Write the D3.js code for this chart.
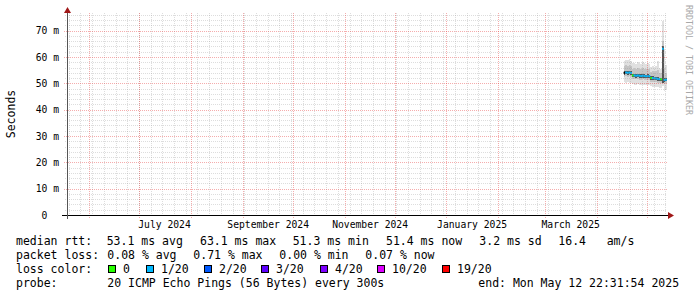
<!DOCTYPE html>
<html>
<head>
<meta charset="utf-8">
<script src="https://cdn.jsdelivr.net/npm/d3@7"></script>
<style>
    body { margin: 0; background: #fff; }
    svg text { font-family: "DejaVu Sans Mono", monospace; white-space: pre; }
</style>
</head>
<body>
<div id="chart"></div>
<script>
// smokeping graph, last ~359 days, one bin per day counted back from the end time
const endTime = new Date(Date.UTC(2025, 4, 12, 22, 31, 54));
const spanDays = 359;

const binDays   = [-26, -25, -24, -23, -22, -21, -20, -19, -18, -17, -16, -15, -14, -13, -12, -11, -10, -9, -8, -7, -6, -5, -4, -3, -2, -1];
const medianRtt = [54.0, 54.1, 54.0, 54.1, 53.9, 53.0, 53.0, 52.9, 53.0, 52.9, 52.8, 52.9, 52.8, 52.7, 52.8, 52.7, 52.0, 52.0, 51.9, 51.8, 51.7, 51.6, 51.5, 63.1, 51.3, 51.4];
// pings lost out of 20 (null = unknown)
const lossCount = [null, 1, 1, 1, 1, 0, 1, 1, 1, 1, 1, 1, 1, 1, 1, 1, 0, 1, 1, 1, 1, 1, 0, 1, 1, 1];
// smoke: spread of the 20 pings in each bin
const smokeMin  = [50.5, 50.3, 50.4, 50.2, 50.3, 49.6, 49.5, 49.4, 49.6, 49.5, 49.3, 49.5, 49.4, 49.2, 49.3, 49.2, 48.8, 48.7, 48.6, 48.7, 48.5, 48.4, 48.3, 49.0, 47.0, 47.5];
const smokeLow  = [52.5, 52.6, 52.5, 52.6, 52.4, 51.6, 51.5, 51.5, 51.6, 51.4, 51.3, 51.5, 51.4, 51.2, 51.3, 51.2, 50.6, 50.5, 50.4, 50.4, 50.3, 50.2, 50.1, 50.5, 49.8, 50.0];
const smokeHigh = [56.5, 56.8, 56.6, 56.9, 56.5, 55.6, 55.8, 55.5, 55.9, 55.6, 55.4, 55.7, 55.5, 55.3, 55.6, 55.4, 54.4, 54.6, 54.3, 54.5, 55.0, 54.0, 53.8, 66.0, 56.0, 54.0];
const smokeMax  = [58.5, 59.0, 58.8, 59.2, 58.6, 57.6, 57.9, 57.5, 58.2, 57.8, 57.4, 58.0, 57.6, 57.3, 57.9, 57.5, 56.2, 56.5, 56.0, 56.4, 58.5, 55.8, 55.6, 73.5, 63.0, 57.0];
const coreLow   = [53.3, 53.4, 53.3, 53.4, 53.2, 52.3, 52.3, 52.2, 52.3, 52.2, 52.1, 52.2, 52.1, 52.0, 52.1, 52.0, 51.3, 51.3, 51.2, 51.1, 51.0, 50.9, 50.8, 50.2, 50.6, 50.7];
const coreHigh  = [54.6, 54.7, 54.6, 54.7, 54.5, 53.6, 53.6, 53.5, 53.6, 53.5, 53.4, 53.5, 53.4, 53.3, 53.4, 53.3, 52.6, 52.6, 52.5, 52.4, 52.3, 52.2, 52.1, 64.0, 51.9, 52.0];

// loss colour legend
const lossSteps  = [0, 1, 2, 3, 4, 10, 19];
const lossLabels = ["0", "1/20", "2/20", "3/20", "4/20", "10/20", "19/20"];
const lossColors = ["#26ff00", "#00b8ff", "#0059ff", "#5e00ff", "#7e00ff", "#dd00ff", "#ff0000"];

// axes
const yTicks = [0, 10, 20, 30, 40, 50, 60, 70];
const yTickLabels = ["0", "10 m", "20 m", "30 m", "40 m", "50 m", "60 m", "70 m"];
const xLabelMonths = ["2024-07-01", "2024-09-01", "2024-11-01", "2025-01-01", "2025-03-01"];
const xLabelText = ["July 2024", "September 2024", "November 2024", "January 2025", "March 2025"];

// legend text
const rttStats  = ["53.1 ms avg", "63.1 ms max", "51.3 ms min", "51.4 ms now", "3.2 ms sd", "16.4", "am/s"];
const lossStats = ["0.08 % avg", "0.71 % max", "0.00 % min", "0.07 % now"];
const probeText = "20 ICMP Echo Pings (56 Bytes) every 300s";
const endText   = "end: Mon May 12 22:31:54 2025";

const W = 697, H = 297;
const plot = {left: 67, right: 667, top: 13, bottom: 215};

const svg = d3.select("#chart")
    .append("svg")
    .attr("width", W)
    .attr("height", H);

svg.append("rect").attr("width", W).attr("height", H).attr("fill", "#fff");

const startTime = d3.utcDay.offset(endTime, -spanDays);
const x = d3.scaleUtc().domain([startTime, endTime]).range([plot.left, plot.right]);
const y = d3.scaleLinear().domain([0, 76.7]).range([plot.bottom, plot.top]);

const px = v => Math.round(v) + 0.5;

const bins = binDays.map((d, i) => ({
    t0: d3.utcDay.offset(endTime, d),
    t1: d3.utcDay.offset(endTime, d + 1),
    median: medianRtt[i],
    loss: lossCount[i],
    min: smokeMin[i], low: smokeLow[i], high: smokeHigh[i], max: smokeMax[i],
    cLow: coreLow[i], cHigh: coreHigh[i]
}));

function lossColor(l) {
    if (l === null) return "#000";
    let c = lossColors[0];
    lossSteps.forEach((s, i) => { if (l >= s) c = lossColors[i]; });
    return c;
}

// smoke bands
const smoke = svg.append("g");
[["min", "max", "#e0e0e0"], ["low", "high", "#c4c4c4"], ["cLow", "cHigh", "#555"]].forEach(([lo, hi, col]) => {
    smoke.selectAll(null)
        .data(bins)
        .join("rect")
        .attr("x", d => x(d.t0))
        .attr("width", d => x(d.t1) - x(d.t0))
        .attr("y", d => y(d[hi]))
        .attr("height", d => y(d[lo]) - y(d[hi]))
        .attr("fill", col)
        .attr("shape-rendering", "crispEdges");
});

// median line, one step per bin, coloured by loss
svg.append("g")
    .attr("stroke-width", 2)
    .attr("fill", "none")
    .selectAll(null)
    .data(bins)
    .join("path")
    .attr("stroke", d => lossColor(d.loss))
    .attr("d", d => `M${x(d.t0)},${y(d.median)}H${x(d.t1)}`);

// grid (drawn over the data like rrdtool does)
const minorCol = "rgba(150,150,150,0.32)";
const majorCol = "rgba(230,50,50,0.4)";
const grid = svg.append("g").attr("stroke-dasharray", "1,1").attr("shape-rendering", "crispEdges");
const minorY = d3.range(2, 77, 2).filter(v => v % 10 !== 0);
grid.selectAll(null).data(minorY).join("line")
    .attr("x1", plot.left - 2).attr("x2", plot.right)
    .attr("y1", d => px(y(d))).attr("y2", d => px(y(d)))
    .attr("stroke", minorCol);
const weeks = d3.utcMonday.range(startTime, endTime);
grid.selectAll(null).data(weeks).join("line")
    .attr("x1", d => px(x(d))).attr("x2", d => px(x(d)))
    .attr("y1", plot.top).attr("y2", plot.bottom + 2)
    .attr("stroke", minorCol);
grid.selectAll(null).data(yTicks.slice(1)).join("line")
    .attr("x1", plot.left - 3).attr("x2", plot.right)
    .attr("y1", d => px(y(d))).attr("y2", d => px(y(d)))
    .attr("stroke", majorCol);
const months = d3.utcMonth.range(startTime, endTime);
grid.selectAll(null).data(months).join("line")
    .attr("x1", d => px(x(d))).attr("x2", d => px(x(d)))
    .attr("y1", plot.top).attr("y2", plot.bottom + 3)
    .attr("stroke", majorCol);

// axis lines + arrows
svg.append("line")
    .attr("x1", plot.left - 5).attr("x2", plot.right + 1)
    .attr("y1", px(plot.bottom)).attr("y2", px(plot.bottom))
    .attr("stroke", "#000");
svg.append("line")
    .attr("x1", px(plot.left)).attr("x2", px(plot.left))
    .attr("y1", plot.bottom + 4).attr("y2", plot.top - 4)
    .attr("stroke", "#555");
svg.append("path")
    .attr("d", `M${plot.right + 1},${plot.bottom - 3}L${plot.right + 7},${plot.bottom + 0.5}L${plot.right + 1},${plot.bottom + 4}Z`)
    .attr("fill", "#a01818");
svg.append("path")
    .attr("d", `M${plot.left - 3},${plot.top}L${plot.left + 0.5},${plot.top - 6}L${plot.left + 4},${plot.top}Z`)
    .attr("fill", "#a01818");

// y tick labels
const yAxis = d3.axisLeft(y)
    .tickValues(yTicks)
    .tickSize(0)
    .tickPadding(8)
    .tickFormat((d, i) => yTickLabels[i].includes(" ") ? yTickLabels[i] : yTickLabels[i] + "  ");
const gy = svg.append("g").attr("transform", `translate(${plot.left},0)`).call(yAxis);
gy.select(".domain").remove();
gy.selectAll("text")
    .attr("font-family", "DejaVu Sans Mono")
    .attr("font-size", 9.7)
    .attr("fill", "#000")
    .attr("xml:space", "preserve");

// x month labels, centred half a month after the month start
const xAxis = d3.axisBottom(x)
    .tickValues(xLabelMonths.map(m => d3.utcDay.offset(new Date(m + "T00:00:00Z"), 15)))
    .tickSize(0)
    .tickPadding(6)
    .tickFormat((d, i) => xLabelText[i]);
const gx = svg.append("g").attr("transform", `translate(0,${plot.bottom})`).call(xAxis);
gx.select(".domain").remove();
gx.selectAll("text")
    .attr("font-family", "DejaVu Sans Mono")
    .attr("font-size", 9.7)
    .attr("fill", "#000");

// y axis title
svg.append("text")
    .attr("transform", `translate(14.5,114) rotate(-90)`)
    .attr("text-anchor", "middle")
    .attr("font-size", 11.5)
    .text("Seconds");

// watermark
svg.append("text")
    .attr("transform", `translate(686,60) rotate(90)`)
    .attr("text-anchor", "middle")
    .attr("font-size", 8.3)
    .attr("fill", "#a8a8a8")
    .text("RRDTOOL / TOBI OETIKER");

// legend
const legend = svg.append("g").attr("font-size", 11.5).attr("fill", "#000");
const rowY = [245, 259, 273, 287];
const putText = (xx, yy, t) => legend.append("text").attr("x", xx).attr("y", yy).attr("xml:space", "preserve").text(t);

putText(16, rowY[0], "median rtt:");
const rttCols = [106.7, 200, 292.7, 386, 479.3, 558.3, 606.7];
rttStats.forEach((t, i) => putText(rttCols[i], rowY[0], t));

putText(16, rowY[1], "packet loss:");
const lossCols = [107.3, 193.3, 279.3, 365.3];
lossStats.forEach((t, i) => putText(lossCols[i], rowY[1], t));

putText(16, rowY[2], "loss color:");
const swatchCols = [108.5, 146.5, 204.5, 261.5, 320.5, 377.5, 442.5];
lossLabels.forEach((t, i) => {
    legend.append("rect")
        .attr("x", swatchCols[i]).attr("y", 265.5)
        .attr("width", 7).attr("height", 7)
        .attr("fill", lossColors[i])
        .attr("stroke", "#000");
    putText(swatchCols[i] + 14.5, rowY[2], t);
});

putText(16, rowY[3], "probe:");
putText(107.3, rowY[3], probeText);
putText(478.3, rowY[3], endText);
</script>
</body>
</html>
